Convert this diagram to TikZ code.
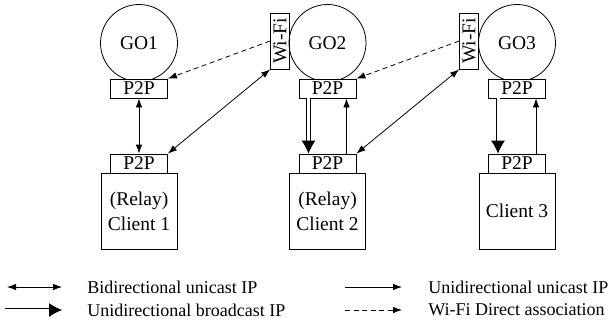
\documentclass[tikz,border=0pt]{standalone}
\usepackage{fontspec}
\setmainfont{Liberation Serif}
\usetikzlibrary{arrows.meta,positioning}
\tikzset{
  gonode/.style={draw,circle,minimum size=77pt,inner sep=0pt},
  ptpbox/.style={draw,fill=white,minimum width=57pt,minimum height=19pt,inner sep=0pt},
  wifibox/.style={draw,rotate=90,minimum width=56pt,minimum height=19pt,inner sep=0pt},
  clientbox/.style={draw,minimum width=76pt,minimum height=76pt,inner sep=0pt,align=center},
  legtext/.style={anchor=west,inner sep=0pt,font=\fontsize{18}{22}\selectfont},
  uni/.style={-{Latex[length=9pt,width=6.5pt]}},
  bidi/.style={{Latex[length=9pt,width=6.5pt]}-{Latex[length=9pt,width=6.5pt]}},
  bcast/.style={double,double distance=3pt,-{Latex[length=13pt,width=14pt]}},
  assoc/.style={dashed,dash pattern=on 5pt off 3.5pt,-{Latex[length=9pt,width=6.5pt]}}
}
\begin{document}
\begin{tikzpicture}[x=1pt,y=-1pt,line width=0.8pt,font=\fontsize{19.5}{25}\selectfont]
  \useasboundingbox (0,0) rectangle (615,332);
  % group owners, their clients and the Wi-Fi links
  \foreach \i/\x in {1/139,2/327.5,3/517}{
    \node[gonode] (go\i) at (\x,43) {GO\i};
    \node[ptpbox] (gp\i) at (\x,88.5) {P2P};
    \node[ptpbox] (cp\i) at (\x,163.5) {P2P};
  }
  \node[clientbox] (cl1) at (139,211) {(Relay)\\Client 1};
  \node[clientbox] (cl2) at (327.5,211) {(Relay)\\Client 2};
  \node[clientbox] (cl3) at (517,211) {Client 3};
  \node[wifibox] (wf1) at (280,41) {Wi-Fi};
  \node[wifibox] (wf2) at (469,41) {Wi-Fi};
  % links
  \draw[bidi] (gp1) -- (cp1);
  \draw[bidi] (cp1.north east) -- (wf1.north west);
  \draw[assoc] (wf1.north) -- (gp1.north east);
  \draw[bidi] (cp2.north east) -- (wf2.north west);
  \draw[assoc] (wf2.north) -- (gp2.north east);
  \foreach \i in {2,3}{
    \draw[bcast] ([xshift=-19pt]gp\i.south) -- ([xshift=-19pt]cp\i.north);
    \draw[uni] ([xshift=19pt]cp\i.north) -- ([xshift=19pt]gp\i.south);
  }
  % legend
  \node[legtext] (lg1) at (87,287) {Bidirectional unicast IP};
  \node[legtext] (lg2) at (87,310) {Unidirectional broadcast IP};
  \node[legtext] (lg3) at (428,287) {Unidirectional unicast IP};
  \node[legtext] (lg4) at (428,310) {Wi-Fi Direct association};
  \coordinate (la1) at (7,287);
  \coordinate (la2) at (5,310);
  \coordinate (la3) at (345,287);
  \coordinate (la4) at (345,310);
  \draw[bidi] (la1) -- ([xshift=-25pt]lg1.west);
  \draw[bcast] (la2) -- ([xshift=-25pt]lg2.west);
  \draw[uni] (la3) -- ([xshift=-26pt]lg3.west);
  \draw[assoc] (la4) -- ([xshift=-26pt]lg4.west);
\end{tikzpicture}
\end{document}
